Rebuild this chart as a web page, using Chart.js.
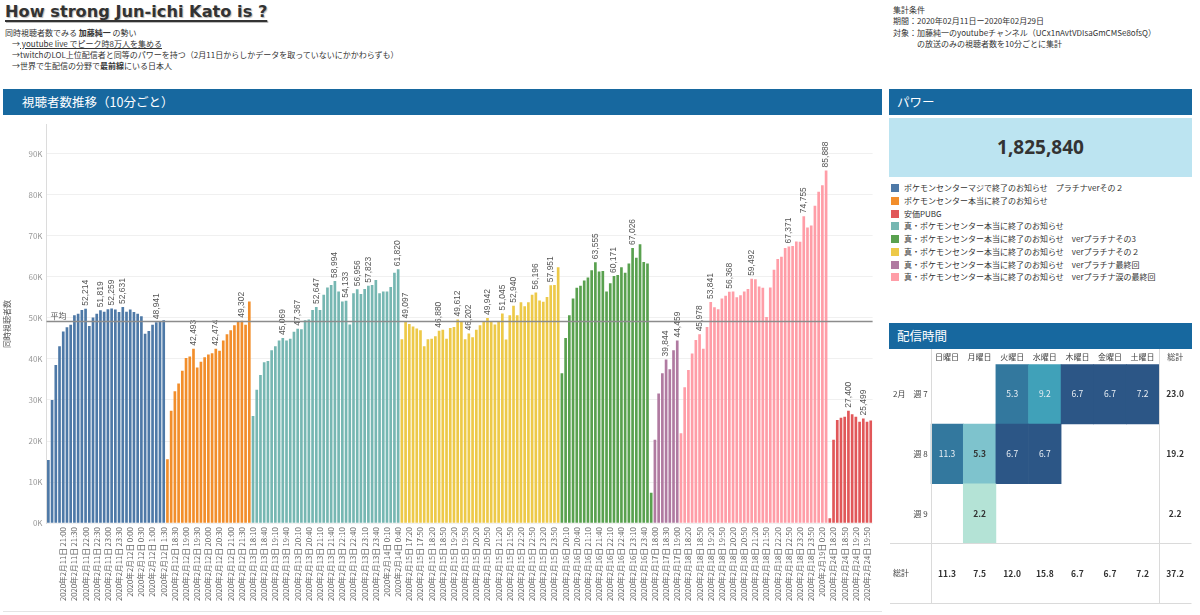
<!DOCTYPE html>
<html>
<head>
<meta charset="utf-8">
<script src="https://cdn.jsdelivr.net/npm/chart.js@4.4.1/dist/chart.umd.min.js"></script>
<style>
body{margin:0;background:#fff;width:1200px;height:615px;position:relative;overflow:hidden;font-family:"Noto Sans CJK JP","Noto Sans",sans-serif;color:#333}
.abs{position:absolute}
#title{left:5px;top:2px;font:bold 16.2px "DejaVu Sans";color:#333;text-decoration:underline;text-decoration-thickness:2px;text-underline-offset:3px;text-shadow:1px 1px 1px #bbb;white-space:nowrap}
.sub{font-size:8px;line-height:11px;white-space:nowrap;color:#333}
.hdr{background:#17689f;color:#fff;font-size:12.5px;line-height:26px;height:26px;white-space:nowrap}
#power{left:889px;top:118px;width:303px;height:59px;background:#bce4f1;text-align:center;font:bold 19px "Open Sans";line-height:59px;color:#333}
#legend{left:891px;top:182px;font-size:8px;color:#333}
#legend div{height:12.76px;line-height:12.76px;white-space:nowrap}
#legend span{display:inline-block;width:8px;height:8px;margin-right:5px;vertical-align:-1px}
</style>
</head>
<body>
<div id="title" class="abs">How strong Jun-ichi Kato is ?</div>
<div class="abs sub" style="left:5px;top:27px">
<div>同時視聴者数でみる <b>加藤純一</b> の勢い</div>
<div style="padding-left:7px">→<u> youtube live でピーク時8万人を集める</u></div>
<div style="padding-left:7px">→twitchのLOL上位配信者と同等のパワーを持つ（2月11日からしかデータを取っていないにかかわらずも）</div>
<div style="padding-left:7px">→世界で生配信の分野で<b>最前線</b>にいる日本人</div>
</div>
<div class="abs sub" style="left:893px;top:4px;line-height:11.3px">
<div>集計条件</div>
<div>期間：2020年02月11日ー2020年02月29日</div>
<div>対象：加藤純一のyoutubeチャンネル（UCx1nAvtVDIsaGmCMSe8ofsQ）</div>
<div>　　　の放送のみの視聴者数を10分ごとに集計</div>
</div>

<div class="abs hdr" style="left:3px;top:89px;width:860px;padding-left:19px">視聴者数推移（10分ごと）</div>
<div class="abs hdr" style="left:889px;top:89px;width:295px;padding-left:8px">パワー</div>
<div id="power" class="abs">1,825,840</div>
<div id="legend" class="abs"></div>
<div class="abs hdr" style="left:889px;top:323px;width:295px;padding-left:8px">配信時間</div>

<canvas id="main" class="abs" width="884" height="496" style="left:0;top:116px"></canvas>
<canvas id="heat" class="abs" width="310" height="262" style="left:885px;top:349px"></canvas>
<div class="abs" style="left:3px;top:611px;width:879px;height:1px;background:#e4e4e4"></div>

<script>
const JP = '"Noto Sans CJK JP", "Noto Sans", sans-serif';

// legend (order as in the reference)
const streamNames = [
  'ポケモンセンターマジで終了のお知らせ　プラチナverその２',
  'ポケモンセンター本当に終了のお知らせ',
  '安価PUBG',
  '真・ポケモンセンター本当に終了のお知らせ',
  '真・ポケモンセンター本当に終了のお知らせ　verプラチナその3',
  '真・ポケモンセンター本当に終了のお知らせ　verプラチナその２',
  '真・ポケモンセンター本当に終了のお知らせ　verプラチナ最終回',
  '真・ポケモンセンター本当に終了のお知らせ　verプラチナ涙の最終回'
];
const streamColors = ['#4e79a7', '#f28e2b', '#e15759', '#76b7b2', '#59a14f', '#edc948', '#b07aa1', '#ff9da7'];

// viewers every 10 minutes, per stream (chart order)
const blueVals = [15400, 30000, 38500, 43100, 46700, 47700, 48300, 50600, 51000, 51900, 52214, 48000, 50100, 51000, 51819, 51500,
  52100, 52259, 52000, 51400, 52631, 51500, 52000, 51400, 51000, 50400, 46100, 46800, 48300, 48941, 49100, 49400];
const orangeVals = [15600, 27400, 32100, 34000, 37100, 40200, 40600, 42493, 37900, 39300, 40400, 41100, 41400, 42474, 42000, 44500,
  46000, 47000, 48200, 49000, 49302, 48300, 54000];
const tealVals = [26100, 32500, 36100, 39200, 39500, 42100, 43100, 44500, 45069, 44500, 44900, 46600, 47367, 47200, 49400, 49600,
  51900, 52647, 51900, 55600, 57400, 58000, 58994, 56400, 54000, 54133, 48400, 56000, 56956, 55800, 57000, 57823,
  58000, 59200, 56000, 56400, 56400, 57500, 61000, 61820];
const yellowVals = [44800, 49097, 48500, 47900, 47400, 47000, 43100, 44800, 44900, 45500, 46880, 47100, 44900, 47500, 47800, 49612,
  49100, 44800, 46202, 45300, 47100, 48200, 49000, 49942, 49100, 48400, 49100, 51045, 44700, 50600, 52940, 50600,
  53800, 52800, 53800, 55600, 56196, 54200, 53900, 55100, 57951, 58000, 62300];
const greenVals = [36500, 45100, 50600, 54700, 57300, 57800, 59100, 59800, 61600, 63555, 61300, 61400, 56400, 58400, 60171, 60400,
  62300, 61000, 63200, 67026, 64600, 67900, 63600, 63200, 7400];
const purpleVals = [20300, 31600, 36500, 39844, 37500, 42100, 44459];
const pinkVals = [21900, 33100, 37300, 41300, 44600, 45978, 42500, 47800, 53841, 52600, 52100, 54700, 55400, 56368, 56400, 55000,
  55500, 56400, 57000, 59492, 59400, 57600, 57300, 50200, 57400, 61700, 64300, 64900, 67000, 67371, 67500, 68600,
  68500, 74755, 72000, 72500, 77300, 80700, 82300, 85888];
const redVals = [1200, 20300, 25100, 25700, 25900, 27400, 26500, 25900, 24700, 25499, 24700, 25000];

// bars that carry a value label (index inside each stream)
const blueMarks = [10, 14, 17, 20, 29];
const orangeMarks = [7, 13, 20];
const tealMarks = [8, 12, 17, 22, 25, 28, 31, 39];
const yellowMarks = [1, 10, 15, 18, 23, 27, 30, 36, 40];
const greenMarks = [9, 14, 19];
const purpleMarks = [3, 6];
const pinkMarks = [5, 8, 13, 19, 29, 33, 39];
const redMarks = [5, 9];

// y axis ticks
const yTicks = [0, 10000, 20000, 30000, 40000, 50000, 60000, 70000, 80000, 90000];

// time stamps of the bars: start of each run and number of 10-minute slots
const segStart = ['2020-02-11 20:20', '2020-02-12 18:10', '2020-02-13 18:10', '2020-02-15 17:00', '2020-02-16 20:00',
  '2020-02-17 18:00', '2020-02-17 19:10', '2020-02-18 18:10', '2020-02-24 18:10'];
const segCount = [32, 23, 40, 43, 25, 7, 1, 39, 12];

const categories = [];
segStart.forEach((s, k) => {
  const [d, t] = s.split(' ');
  const [Y, M, D] = d.split('-').map(Number);
  const [h, mi] = t.split(':').map(Number);
  for (let i = 0; i < segCount[k]; i++) {
    const dt = new Date(Y, M - 1, D, h, mi + 10 * i);
    categories.push(dt.getFullYear() + '年' + (dt.getMonth() + 1) + '月' + dt.getDate() + '日 ' +
      dt.getHours() + ':' + String(dt.getMinutes()).padStart(2, '0'));
  }
});

// chart order: blue, orange, teal, yellow, green, purple, pink, red
const runs = [
  [blueVals, blueMarks, 0], [orangeVals, orangeMarks, 1], [tealVals, tealMarks, 3], [yellowVals, yellowMarks, 5],
  [greenVals, greenMarks, 4], [purpleVals, purpleMarks, 6], [pinkVals, pinkMarks, 7], [redVals, redMarks, 2]
];
const values = [], barColors = [], marked = [];
runs.forEach(([vals, marks, ci]) => {
  marks.forEach(m => marked.push(values.length + m));
  vals.forEach(v => { values.push(v); barColors.push(streamColors[ci]); });
});
const avg = values.reduce((a, b) => a + b, 0) / values.length;

// legend
const lg = document.getElementById('legend');
streamNames.forEach((n, i) => {
  const d = document.createElement('div');
  d.innerHTML = '<span style="background:' + streamColors[i] + '"></span>' + n;
  lg.appendChild(d);
});

const mainDecor = {
  id: 'mainDecor',
  afterDatasetsDraw(chart) {
    const { ctx, chartArea: a } = chart;
    const y = chart.scales.y;
    const meta = chart.getDatasetMeta(0);
    ctx.save();
    ctx.font = '8.5px "Liberation Sans"';
    ctx.fillStyle = '#555';
    ctx.textAlign = 'left';
    ctx.textBaseline = 'middle';
    marked.forEach(i => {
      const b = meta.data[i];
      ctx.save();
      ctx.translate(b.x, b.y - 3);
      ctx.rotate(-Math.PI / 2);
      ctx.fillText(values[i].toLocaleString('en-US'), 0, 0);
      ctx.restore();
    });
    const yy = Math.round(y.getPixelForValue(avg)) + 0.5;
    ctx.strokeStyle = '#8c8c8c';
    ctx.lineWidth = 1.3;
    ctx.beginPath();
    ctx.moveTo(a.left, yy);
    ctx.lineTo(a.right, yy);
    ctx.stroke();
    ctx.font = '8px ' + JP;
    ctx.textBaseline = 'bottom';
    ctx.fillText('平均', a.left + 4, yy - 2);
    ctx.restore();
  }
};

new Chart(document.getElementById('main').getContext('2d'), {
  type: 'bar',
  data: {
    labels: categories,
    datasets: [{
      data: values,
      backgroundColor: barColors,
      barPercentage: 0.72,
      categoryPercentage: 1,
      borderWidth: 0
    }]
  },
  options: {
    responsive: false,
    animation: false,
    devicePixelRatio: 1,
    layout: { padding: { top: 4.6, right: 4, left: 0, bottom: 0 } },
    plugins: { legend: { display: false }, tooltip: { enabled: false } },
    scales: {
      x: {
        grid: { display: false, drawTicks: false },
        border: { display: false },
        ticks: {
          autoSkip: false, minRotation: 90, maxRotation: 90, padding: 4,
          font: { size: 7.7, family: JP }, color: '#666',
          callback(v, i) { return i % 3 === 1 && i > 2 ? this.getLabelForValue(v) : ''; }
        },
        afterFit(s) { s.height = 88.8; }
      },
      y: {
        min: 0, max: 97000,
        grid: { color: '#f0f0f0', drawTicks: false },
        border: { color: '#dcdcdc' },
        ticks: {
          padding: 4,
          font: { size: 8, family: JP }, color: '#999',
          callback: v => (v / 1000) + 'K'
        },
        afterBuildTicks(s) { s.ticks = yTicks.map(v => ({ value: v })); },
        title: { display: true, text: '同時視聴者数', font: { size: 8, family: JP }, color: '#555', padding: 2 },
        afterFit(s) { s.width = 46.5; }
      }
    }
  },
  plugins: [mainDecor]
});

// streaming hours per weekday / week
const days = ['日曜日', '月曜日', '火曜日', '水曜日', '木曜日', '金曜日', '土曜日'];
const weekRows = ['週 7', '週 8', '週 9'];
const week7Hours = [null, null, 5.3, 9.2, 6.7, 6.7, 7.2];
const week8Hours = [11.3, 5.3, 6.7, 6.7, null, null, null];
const week9Hours = [null, 2.2, null, null, null, null, null];
const weekTotals = [23.0, 19.2, 2.2];
const dayTotals = [11.3, 7.5, 12.0, 15.8, 6.7, 6.7, 7.2];
const grandTotal = 37.2;
const week7Shades = [null, null, '#33789e', '#40a1b9', '#2c5686', '#2c5686', '#2c5686'];
const week8Shades = ['#33789e', '#7ec3cd', '#2c5686', '#2c5686', null, null, null];
const week9Shades = [null, '#b4e3d6', null, null, null, null, null];

const hourRows = [week7Hours, week8Hours, week9Hours];
const shadeRows = [week7Shades, week8Shades, week9Shades];
const cells = [], cellColors = [];
hourRows.forEach((row, r) => row.forEach((v, c) => {
  if (v === null) return;
  cells.push({ x: days[c], y: [r, r + 1], v: v, r: r, c: c });
  cellColors.push(shadeRows[r][c]);
}));

const heatDecor = {
  id: 'heatDecor',
  afterDatasetsDraw(chart) {
    const { ctx, chartArea: a, scales: { x, y } } = chart;
    const top = 0, L = 5;
    ctx.save();
    ctx.textAlign = 'center';
    ctx.textBaseline = 'middle';
    cells.forEach(cl => {
      const light = cl.c === 1;
      ctx.fillStyle = light ? '#333' : '#e8eef4';
      ctx.font = (light ? '600 ' : '') + '8.5px ' + JP;
      ctx.fillText(cl.v.toFixed(1), x.getPixelForValue(cl.c), y.getPixelForValue(cl.r + 0.5));
    });
    ctx.fillStyle = '#333';
    ctx.font = '600 8.5px ' + JP;
    weekTotals.forEach((v, r) => ctx.fillText(v.toFixed(1), x.getPixelForValue(7), y.getPixelForValue(r + 0.5)));
    dayTotals.forEach((v, c) => ctx.fillText(v.toFixed(1), x.getPixelForValue(c), y.getPixelForValue(3.5)));
    ctx.fillText(grandTotal.toFixed(1), x.getPixelForValue(7), y.getPixelForValue(3.5));
    ctx.textAlign = 'left';
    ctx.font = '8px ' + JP;
    ctx.fillStyle = '#444';
    ctx.fillText('2月', 8, y.getPixelForValue(0.5));
    ctx.fillText('総計', 8, y.getPixelForValue(3.5));
    // separators
    ctx.strokeStyle = '#dadada';
    ctx.lineWidth = 1;
    const xs = Math.round(a.left) + 0.5;
    const xt = Math.round((x.getPixelForValue(6) + x.getPixelForValue(7)) / 2) + 0.5;
    const yt = Math.round(y.getPixelForValue(3)) + 0.5;
    const yb = Math.round(a.bottom) + 0.5;
    ctx.beginPath();
    ctx.moveTo(xs, top); ctx.lineTo(xs, yb);
    ctx.moveTo(xt, top); ctx.lineTo(xt, yb);
    ctx.moveTo(L, yt); ctx.lineTo(a.right, yt);
    ctx.moveTo(L, yb); ctx.lineTo(a.right, yb);
    ctx.stroke();
    ctx.restore();
  }
};

new Chart(document.getElementById('heat').getContext('2d'), {
  type: 'bar',
  data: {
    labels: days.concat(['総計']),
    datasets: [{
      data: cells,
      backgroundColor: cellColors,
      barPercentage: 1,
      categoryPercentage: 1,
      borderWidth: 0,
      borderSkipped: false
    }]
  },
  options: {
    responsive: false,
    animation: false,
    devicePixelRatio: 1,
    layout: { padding: { top: 0, right: 3.5, left: 0, bottom: 5 } },
    plugins: { legend: { display: false }, tooltip: { enabled: false } },
    scales: {
      x: {
        position: 'top',
        grid: { display: false, drawTicks: false },
        border: { display: false },
        ticks: { font: { size: 8, family: JP }, color: '#444', padding: 3, maxRotation: 0 },
        afterFit(s) { s.height = 15.3; }
      },
      y: {
        min: 0, max: 4, reverse: true,
        grid: { display: false, drawTicks: false },
        border: { display: false },
        ticks: {
          font: { size: 8, family: JP }, color: '#444', padding: 3,
          callback: v => weekRows[Math.floor(v)] || ''
        },
        afterBuildTicks(s) { s.ticks = [0.5, 1.5, 2.5, 3.5].map(v => ({ value: v })); },
        afterFit(s) { s.width = 45.7; }
      }
    }
  },
  plugins: [heatDecor]
});
</script>
</body>
</html>
